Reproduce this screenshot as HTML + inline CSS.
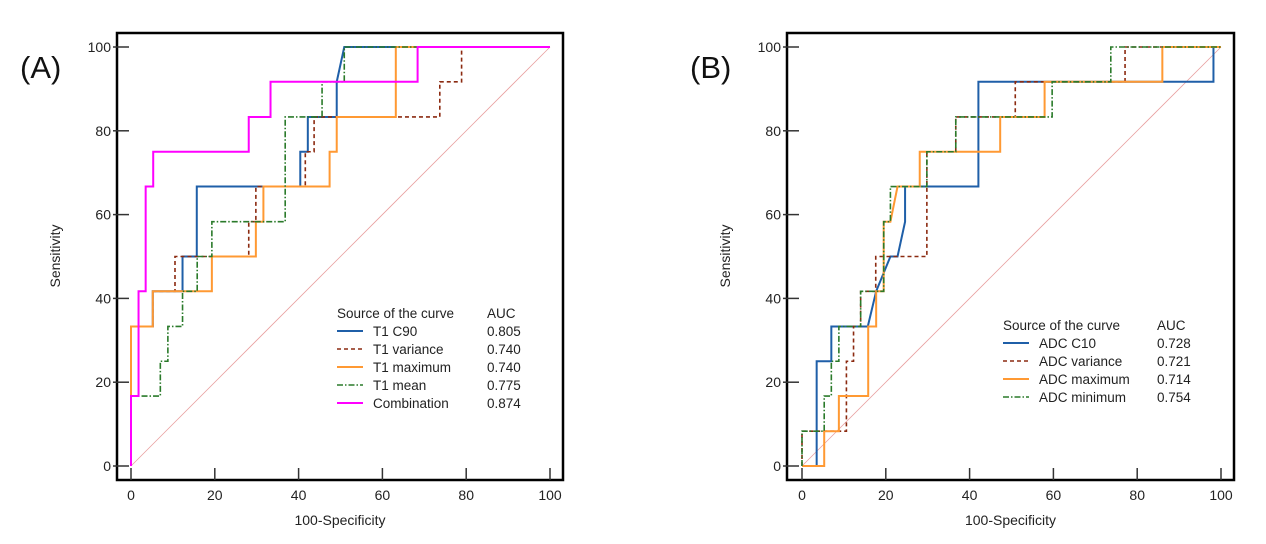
<!DOCTYPE html>
<html><head><meta charset="utf-8"><style>
html,body{margin:0;padding:0;background:#fff;}
svg{display:block;font-family:"Liberation Sans",Arial,sans-serif;}
</style></head><body>
<svg id="chart" width="1266" height="544" viewBox="0 0 1266 544"></svg>
<script>
// ---- data ----
const ticks = [0,20,40,60,80,100];
// Panel A
const aC90 = [[0,0],[0,33.3],[5.2,33.3],[5.2,41.7],[12.3,41.7],[12.3,50],[15.7,50],[15.7,66.7],[40.4,66.7],[40.4,75],[42.2,75],[42.2,83.3],[49.1,83.3],[49.1,91.7],[50.9,100],[100,100]];
const aVar = [[0,0],[0,33.3],[5.2,33.3],[5.2,41.7],[10.5,41.7],[10.5,50],[28.1,50],[28.1,58.3],[29.8,58.3],[29.8,66.7],[41.6,66.7],[41.6,75],[43.7,75],[43.7,83.3],[73.7,83.3],[73.7,91.7],[78.9,91.7],[78.9,100],[100,100]];
const aMax = [[0,0],[0,33.3],[5.2,33.3],[5.2,41.7],[19.3,41.7],[19.3,50],[29.8,50],[29.8,58.3],[31.6,58.3],[31.6,66.7],[47.4,66.7],[47.4,75],[49.1,75],[49.1,83.3],[63.2,83.3],[63.2,100],[100,100]];
const aMean = [[0,0],[0,16.7],[7,16.7],[7,25],[8.8,25],[8.8,33.3],[12.3,33.3],[12.3,41.7],[15.8,41.7],[15.8,50],[19.3,50],[19.3,58.3],[36.8,58.3],[36.8,83.3],[45.6,83.3],[45.6,91.7],[50.9,91.7],[50.9,100],[100,100]];
const aComb = [[0,0],[0,16.7],[1.8,16.7],[1.8,41.7],[3.5,41.7],[3.5,66.7],[5.3,66.7],[5.3,75],[28.1,75],[28.1,83.3],[33.3,83.3],[33.3,91.7],[68.4,91.7],[68.4,100],[100,100]];
const aNames = ["T1 C90","T1 variance","T1 maximum","T1 mean","Combination"];
const aAUC = ["0.805","0.740","0.740","0.775","0.874"];
// Panel B
const bC10 = [[0,0],[3.5,0],[3.5,25],[7,25],[7,33.3],[15.7,33.3],[17.7,41.7],[21.1,50],[22.8,50],[24.6,58.3],[24.6,66.7],[42.1,66.7],[42.1,91.7],[98.2,91.7],[98.2,100],[100,100]];
const bVar = [[0,0],[0,8.3],[10.6,8.3],[10.6,25],[12.3,25],[12.3,33.3],[14,33.3],[14,41.7],[17.6,41.7],[17.6,50],[29.8,50],[29.8,75],[36.7,75],[36.7,83.3],[50.9,83.3],[50.9,91.7],[77.1,91.7],[77.1,100],[100,100]];
const bMax = [[0,0],[5.3,0],[5.3,8.3],[8.8,8.3],[8.8,16.7],[15.8,16.7],[15.8,33.3],[17.7,33.3],[17.7,41.7],[19.5,41.7],[19.5,58.3],[21.1,58.3],[22.8,66.7],[28.1,66.7],[28.1,75],[47.3,75],[47.3,83.3],[57.9,83.3],[57.9,91.7],[86,91.7],[86,100],[100,100]];
const bMin = [[0,0],[0,8.3],[5.3,8.3],[5.3,16.7],[7,16.7],[7,25],[8.8,25],[8.8,33.3],[14,33.3],[14,41.7],[19.5,41.7],[19.5,58.3],[21.1,58.3],[21.1,66.7],[29.8,66.7],[29.8,75],[36.7,75],[36.7,83.3],[59.7,83.3],[59.7,91.7],[73.7,91.7],[73.7,100],[100,100]];
const bNames = ["ADC C10","ADC variance","ADC maximum","ADC minimum"];
const bAUC = ["0.728","0.721","0.714","0.754"];

const NS="http://www.w3.org/2000/svg";
const svg=document.getElementById('chart');
function mk(tag,attrs,parent){const e=document.createElementNS(NS,tag);for(const k in attrs)e.setAttribute(k,attrs[k]);(parent||svg).appendChild(e);return e;}
const styles=[
 {stroke:"#1f5fa8",dash:"",w:2},
 {stroke:"#8b2a10",dash:"4,3",w:1.6},
 {stroke:"#ff9933",dash:"",w:2},
 {stroke:"#2a7a2a",dash:"6,2,1.5,2",w:1.6},
 {stroke:"#ff00ff",dash:"",w:2}
];
function panel(p){
  const g=mk('g',{});
  
  
  const sx=v=>p.x0+(p.x1-p.x0)*v/100, sy=v=>466-(466-47)*v/100;
  const fr=mk('rect',{x:p.fl,y:33,width:p.fr-p.fl,height:447,fill:"none",stroke:"#000","stroke-width":2.5},g);
  
  
  const diag=mk('line',{x1:sx(0),y1:sy(0),x2:sx(100),y2:sy(100),stroke:"#e8a0a0","stroke-width":0.8},g);
  
  
  ticks.forEach(t=>{
    const yt=mk('line',{x1:p.fl-4,x2:p.fl+12,y1:sy(t),y2:sy(t),stroke:"#333","stroke-width":1.5},g);
    
    
    const yl=mk('text',{x:p.fl-6,y:sy(t)+5,"text-anchor":"end","font-size":14,fill:"#222"},g);yl.textContent=t;
    
    
    const xt=mk('line',{x1:sx(t),x2:sx(t),y1:468,y2:480,stroke:"#333","stroke-width":1.5},g);
    
    
    const xl=mk('text',{x:sx(t),y:500,"text-anchor":"middle","font-size":14,fill:"#222"},g);xl.textContent=t;
    
    
  });
  const xtitle=mk('text',{x:(p.fl+p.fr)/2,y:525,"text-anchor":"middle","font-size":14,fill:"#222"},g);xtitle.textContent="100-Specificity";
  
  
  const ytitle=mk('text',{x:0,y:0,"text-anchor":"middle","font-size":14,fill:"#222",transform:`translate(${p.fl-57},256) rotate(-90)`},g);ytitle.textContent="Sensitivity";
  
  
  const lab=mk('text',{x:p.lx,y:78,"font-size":31,fill:"#111"},g);lab.textContent=p.label;
  
  
  // order: draw so that combination on top
  p.series.forEach((s,i)=>{
    const st=styles[i];
    const pl=mk('polyline',{points:s.map(d=>sx(d[0])+","+sy(d[1])).join(" "),fill:"none",stroke:st.stroke,"stroke-width":st.w,"stroke-dasharray":st.dash},g);
    
    
  });
  const lg=mk('g',{},g);
  
  
  const h1=mk('text',{x:p.legX,y:p.legY,"font-size":13.5,fill:"#222"},lg);h1.textContent="Source of the curve";
  
  
  const h2=mk('text',{x:p.aucX,y:p.legY,"font-size":13.5,fill:"#222"},lg);h2.textContent="AUC";
  
  
  p.names.forEach((n,i)=>{
    const st=styles[i], y=p.legY+18*(i+1);
    const ln=mk('line',{x1:p.legX,x2:p.legX+26,y1:y-5,y2:y-5,stroke:st.stroke,"stroke-width":st.w,"stroke-dasharray":st.dash},lg);
    
    
    const t=mk('text',{x:p.legX+36,y:y,"font-size":13.5,fill:"#222"},lg);t.textContent=n;
    
    
    const a=mk('text',{x:p.aucX,y:y,"font-size":13.5,fill:"#222"},lg);a.textContent=p.auc[i];
    
    
  });
}
panel({name:"panel-a",label:"(A)",lx:20,fl:117,fr:563,x0:131,x1:550,series:[aC90,aVar,aMax,aMean,aComb],names:aNames,auc:aAUC,legX:337,legY:318,aucX:487});
panel({name:"panel-b",label:"(B)",lx:690,fl:787,fr:1234,x0:802,x1:1221,series:[bC10,bVar,bMax,bMin],names:bNames,auc:bAUC,legX:1003,legY:330,aucX:1157});
</script>
</body></html>
